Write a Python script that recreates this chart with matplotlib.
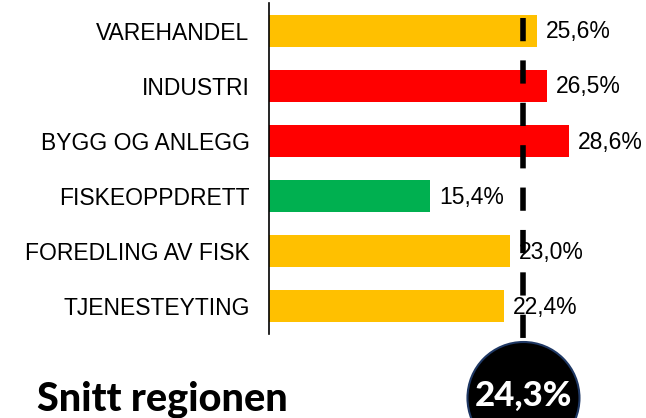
import matplotlib
matplotlib.use("Agg")
import matplotlib.pyplot as plt
from matplotlib.patches import Ellipse
import matplotlib.transforms as mtransforms

categories = ["VAREHANDEL", "INDUSTRI", "BYGG OG ANLEGG", "FISKEOPPDRETT",
              "FOREDLING AV FISK", "TJENESTEYTING"]
values = [25.6, 26.5, 28.6, 15.4, 23.0, 22.4]
colors = ["#FFC000", "#FF0000", "#FF0000", "#00B050", "#FFC000", "#FFC000"]
average = 24.3
avg_title = "Snitt regionen"

W, H = 646, 418
fig = plt.figure(figsize=(W / 100, H / 100), dpi=100)
ax = fig.add_axes([269 / W, (H - 334) / H, 1 - 269 / W, 331 / H])

y = list(range(len(categories)))
ax.barh(y, values, height=0.58, color=colors, zorder=2)
ax.set_ylim(len(categories) - 0.5, -0.5)
ax.set_xlim(0, 36)
ax.set_yticks(y)
ax.set_yticklabels(categories, fontsize=16.5, family="Liberation Sans")
ax.tick_params(axis="y", length=0, pad=14)
ax.set_xticks([])
for s in ["top", "right", "bottom"]:
    ax.spines[s].set_visible(False)
ax.spines["left"].set_linewidth(1.2)
ax.spines["left"].set_color("black")

for yi, v in zip(y, values):
    ax.annotate(f"{v:.1f}".replace(".", ",") + "%", (v, yi),
                xytext=(6.5, -0.8), textcoords="offset points",
                va="center", ha="left", fontsize=16.5,
                family="Liberation Sans", zorder=3)

# dashed average line
trans = mtransforms.blended_transform_factory(ax.transData, ax.transAxes)
ax.plot([average, average], [0.955, -0.05], transform=trans, color="black",
        lw=4.0, dashes=(4.18, 3.45), solid_capstyle="butt",
        dash_capstyle="butt", clip_on=False, zorder=4)

# circle with average value
cx_disp = ax.transData.transform((average, 0))[0]
cx = cx_disp / W
cy = (H - 398) / H
circ = Ellipse((cx, cy), 112 / W, 112 / H, transform=fig.transFigure,
               facecolor="black", edgecolor="#1F3864", lw=1.5, zorder=5)
fig.patches.append(circ)
fig.text(cx, (H - 396) / H, f"{average:.1f}".replace(".", ",") + "%",
         color="white", fontsize=25, fontweight=900, family="Lato",
         ha="center", va="center", zorder=6)

fig.text(37 / W, (H - 411) / H, avg_title, fontsize=28.5, fontweight=900,
         family="Lato", ha="left", va="baseline")

fig.savefig("out.png", dpi=100)
